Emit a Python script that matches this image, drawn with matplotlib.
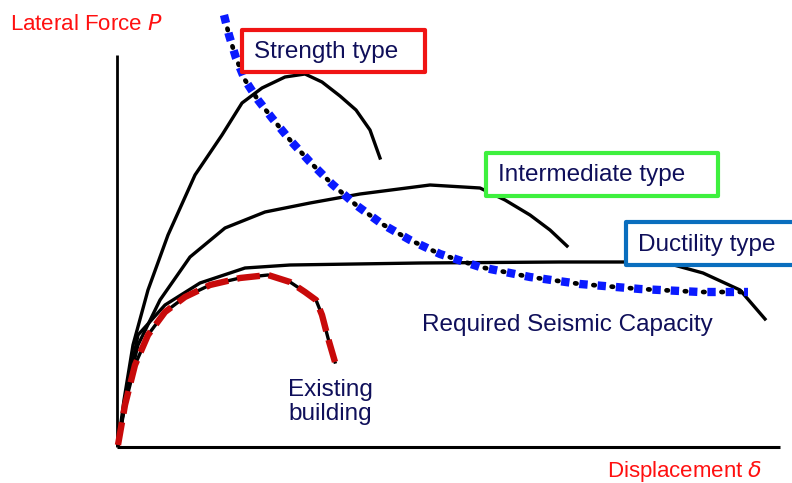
import matplotlib.pyplot as plt
from matplotlib.patches import Rectangle

plt.rcParams['font.family'] = ['Liberation Sans', 'DejaVu Sans']

# curves traced in picture coordinates (x right, y down)
strength_x = [118, 124, 133, 148, 168, 195, 222, 242, 262, 285, 305, 322, 340, 356, 370, 380]
strength_y = [445, 400, 345, 290, 235, 175, 135, 103, 88, 77, 74, 82, 96, 110, 130, 158]

inter_x = [118, 126, 138, 160, 190, 225, 265, 310, 360, 430, 480, 505, 530, 550, 567]
inter_y = [445, 395, 345, 300, 257, 228, 212, 203, 194, 185, 188, 200, 215, 230, 246]

duct_x = [118, 126, 138, 165, 200, 245, 290, 420, 560, 663, 703, 740, 765]
duct_y = [445, 395, 335, 305, 283, 268, 265, 263, 262, 262, 273, 290, 319]

exist_x = [118, 125, 135, 148, 165, 185, 210, 240, 268, 290, 305, 316, 322, 328, 335]
exist_y = [445, 405, 365, 335, 312, 297, 285, 278, 275, 282, 292, 300, 315, 338, 362]

req_x = [224, 229, 236, 245, 258, 272, 290, 310, 332, 356, 382, 410, 440, 480, 530, 580, 640, 700, 748]
req_y = [15, 35, 58, 80, 100, 118, 140, 162, 184, 205, 224, 240, 254, 267, 277, 284, 289, 292, 292]

labels = ['Strength type', 'Intermediate type', 'Ductility type']
label_boxes = [(242, 30, 183, 42), (486, 153, 232, 43), (626, 222, 172, 43)]
box_colors = ['#f01414', '#3ef03e', '#0a6ebe']

navy = '#0f0f5a'
red = '#ff1010'

fig = plt.figure(figsize=(7.92, 4.83), dpi=100)
ax = fig.add_axes([0, 0, 1, 1])
ax.set_xlim(0, 792)
ax.set_ylim(483, 0)
ax.axis('off')

# axes lines
ax.plot([117, 117], [55, 447], color='black', lw=2, solid_capstyle='butt')
ax.plot([117, 780], [447, 447], color='black', lw=2.2, solid_capstyle='butt')

for xs, ys in [(strength_x, strength_y), (inter_x, inter_y), (duct_x, duct_y), (exist_x, exist_y)]:
    ax.plot(xs, ys, color='black', lw=2.4, solid_joinstyle='round', zorder=2)

# existing building red dashes over black
ax.plot(exist_x, exist_y, color='#c80a0a', lw=4.6, linestyle=(0, (3.6, 1.4)),
        dash_capstyle='butt', zorder=3)

# required seismic capacity: black dots between blue squares
ax.plot(req_x, req_y, color='black', lw=3.4, linestyle=(0.9, (0.3, 13.2 / 3.4 - 0.3)),
        dash_capstyle='round', zorder=4)
ax.plot(req_x, req_y, color='#0a1aff', lw=6, linestyle=(0, (1.0, 1.2)),
        dash_capstyle='butt', zorder=5)

for (bx, by, bw, bh), c, t in zip(label_boxes, box_colors, labels):
    ax.add_patch(Rectangle((bx, by), bw, bh, facecolor='white', edgecolor=c,
                           lw=3, zorder=6, joinstyle='round'))
    ax.text(bx + 12, by + bh / 2 + 1, t, color=navy, fontsize=17.5,
            va='center', ha='left', zorder=7)

ax.text(422, 325, 'Required Seismic Capacity', color=navy, fontsize=17.5,
        va='center', ha='left', zorder=7)
ax.text(288, 402, 'Existing\nbuilding', color=navy, fontsize=17.5,
        va='center', ha='left', linespacing=1.1, zorder=7)

ax.text(10, 25, 'Lateral Force $\\mathit{P}$', color=red, fontsize=16,
        va='center', ha='left')
ax.text(607, 471, 'Displacement $\\mathit{\\delta}$', color=red, fontsize=16,
        va='center', ha='left')

fig.savefig('out.png', dpi=100)
